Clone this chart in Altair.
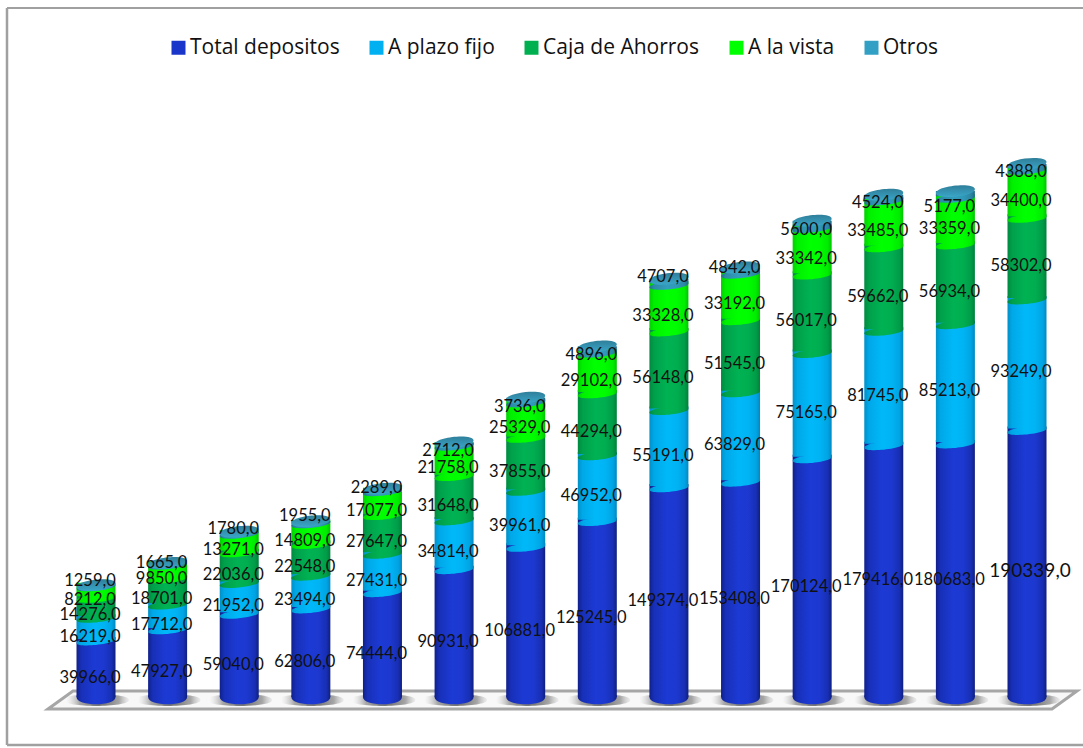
import altair as alt
import pandas as pd

years = list(range(2007, 2021))
total_depositos = [39966, 47927, 59040, 62806, 74444, 90931, 106881, 125245, 149374, 153408, 170124, 179416, 180683, 190339]
a_plazo_fijo = [16219, 17712, 21952, 23494, 27431, 34814, 39961, 46952, 55191, 63829, 75165, 81745, 85213, 93249]
caja_de_ahorros = [14276, 18701, 22036, 22548, 27647, 31648, 37855, 44294, 56148, 51545, 56017, 59662, 56934, 58302]
a_la_vista = [8212, 9850, 13271, 14809, 17077, 21758, 25329, 29102, 33328, 33192, 33342, 33485, 33359, 34400]
otros = [1259, 1665, 1780, 1955, 2289, 2712, 3736, 4896, 4707, 4842, 5600, 4524, 5177, 4388]

series_names = ["Total depositos", "A plazo fijo", "Caja de Ahorros", "A la vista", "Otros"]
series_values = [total_depositos, a_plazo_fijo, caja_de_ahorros, a_la_vista, otros]
swatch_colors = ["#1a35c9", "#00b0f0", "#00b050", "#00ff00", "#31a0c4"]

# Cylinder walls: dark edges, lighter centre
wall_stops = [
    ["#10208a", "#1830b8", "#1c3ad4", "#1c38cf", "#182fb4", "#0f1f80"],
    ["#0090c8", "#00a8e8", "#00b8f8", "#00b4f4", "#00a4e4", "#0088c0"],
    ["#008a40", "#00a04a", "#00b253", "#00ae50", "#009c48", "#00803c"],
    ["#00d000", "#00f000", "#00ff00", "#00fc00", "#00ec00", "#00c400"],
    ["#22708a", "#2c8aa8", "#339cbc", "#3098b8", "#2a86a2", "#206a84"],
]
stop_offsets = [0, 0.12, 0.45, 0.7, 0.9, 1]


def wall(colors):
    return alt.LinearGradient(
        gradient="linear", x1=0, x2=1, y1=0, y2=0,
        stops=[alt.GradientStop(offset=o, color=c) for o, c in zip(stop_offsets, colors)],
    )


# Vertical nudges of the labels, in pixels
otros_label_dy = [-5, -1, -4, -7, -2, 7, 7, 5, -5, -3, 5, 5, 12, 5]
series_label_dy = [9, 7, 7, 7]

rows = []
for n, (name, values) in enumerate(zip(series_names, series_values)):
    for i, (year, v) in enumerate(zip(years, values)):
        below = sum(s[i] for s in series_values[:n])
        rows.append({
            "anio": year, "serie": name, "valor": v,
            "inicio": below, "fin": below + v, "medio": below + v / 2,
            "etiqueta": f"{v},0",
            "dy": otros_label_dy[i] if name == "Otros" else series_label_dy[n],
        })
df = pd.DataFrame(rows)

x_scale = alt.Scale(domain=[2005.6595, 2020.7819], nice=False, zero=False, padding=0)
y_scale = alt.Scale(domain=[-36429, 497857], nice=False, zero=False, padding=0)
X = alt.X("anio:Q", scale=x_scale, axis=None)

BAR_W = 39
cap_size = BAR_W ** 2


def ellipse(k, tilt):
    return (
        f"M-1,{tilt} C-1,{tilt + k} 1,{-tilt + k} 1,{-tilt} "
        f"C1,{-tilt - k} -1,{tilt - k} -1,{tilt} Z"
    )


# Floor slab under the columns
floor_path = "M-5.14,0.09 L-4.89,-0.09 L5.15,-0.09 L4.90,0.09 Z"
floor = alt.Chart(pd.DataFrame({"a": [0]})).mark_point(
    shape=floor_path, size=40000, filled=True, fill="#f8f8f8",
    stroke="#a6a6a6", strokeWidth=3, opacity=1,
).encode(x=alt.value(562), y=alt.value(700))

shadow_fill = alt.RadialGradient(
    gradient="radial", x1=0.55, y1=0.5, x2=0.55, y2=0.5, r1=0, r2=0.5,
    stops=[
        alt.GradientStop(offset=0, color="rgba(90,90,90,0.95)"),
        alt.GradientStop(offset=0.6, color="rgba(130,130,130,0.7)"),
        alt.GradientStop(offset=1, color="rgba(200,200,200,0)"),
    ],
)
shadows = alt.Chart(pd.DataFrame({"anio": years})).mark_point(
    shape=ellipse(0.24, 0), size=66 ** 2, filled=True, fill=shadow_fill, opacity=1,
).encode(x=X, y=alt.value(700))

# Chart frame, open on the right-hand side
frame_color = "#a0a0a0"
frame = [
    alt.Chart(pd.DataFrame({"a": [0]})).mark_rule(color=frame_color, strokeWidth=2.5).encode(
        x=alt.value(7), y=alt.value(8), y2=alt.value(745)),
    alt.Chart(pd.DataFrame({"a": [0]})).mark_rule(color=frame_color, strokeWidth=2).encode(
        x=alt.value(7), x2=alt.value(1083), y=alt.value(8)),
    alt.Chart(pd.DataFrame({"a": [0]})).mark_rule(color=frame_color, strokeWidth=2.5).encode(
        x=alt.value(7), x2=alt.value(1083), y=alt.value(745)),
]

layers = [floor, shadows] + frame

# Segments from the bottom up, each with its rounded lower rim
for n, name in enumerate(series_names):
    part = df[df["serie"] == name]
    fill = wall(wall_stops[n])
    is_base = n == 0
    is_top = n == len(series_names) - 1
    cap = alt.Chart(part).mark_point(
        shape=ellipse(0.5, 0) if is_base else ellipse(0.27, 0.1),
        size=cap_size, filled=True, fill=fill, opacity=1,
    ).encode(x=X, y=alt.Y("inicio:Q", scale=y_scale, axis=None))
    body = alt.Chart(part).mark_bar(
        size=BAR_W, fill=fill,
        y2Offset=0 if is_base else -2,
        yOffset=0 if is_top else -4,
    ).encode(
        x=X,
        y=alt.Y("fin:Q", scale=y_scale, axis=None, stack=None),
        y2="inicio:Q",
    )
    layers += [cap, body]

# Open top of each column
top_fill = alt.LinearGradient(
    gradient="linear", x1=0, x2=0, y1=0, y2=1,
    stops=[alt.GradientStop(offset=0, color="#2f7f9a"), alt.GradientStop(offset=1, color="#3aa6c8")],
)
tops = alt.Chart(df[df["serie"] == "Otros"]).mark_point(
    shape=ellipse(0.38, 0.1), size=cap_size, filled=True, fill=top_fill, opacity=1,
).encode(x=X, y=alt.Y("fin:Q", scale=y_scale, axis=None))
layers.append(tops)

# Value labels, grouped by nudge; the largest one is set in a bigger size
big = df["valor"] == 190339
for dy in sorted(df.loc[~big, "dy"].unique()):
    layers.append(
        alt.Chart(df[(~big) & (df["dy"] == dy)]).mark_text(
            font="Lato", fontSize=16.5, color="#111111", dx=-6, dy=int(dy),
            baseline="middle", align="center",
        ).encode(
            x=X,
            y=alt.Y("medio:Q", scale=y_scale, axis=None),
            text="etiqueta:N",
        )
    )
layers.append(
    alt.Chart(df[big]).mark_text(
        font="Lato", fontSize=19, color="#111111", dx=3, dy=7, baseline="middle", align="center",
    ).encode(
        x=X,
        y=alt.Y("medio:Q", scale=y_scale, axis=None),
        text="etiqueta:N",
    )
)

# Year axis and the legend, carried by an invisible layer
legend_layer = alt.Chart(df).mark_point(filled=True, opacity=0, shape="square").encode(
    x=alt.X(
        "anio:Q", scale=x_scale, title=None,
        axis=alt.Axis(
            values=years, format="d", offset=-25, domain=False, ticks=False, grid=False,
            labelFont="Lato", labelFontSize=16, labelColor="#111111", labelOffset=-12,
            labelPadding=2, labelFlush=False, labelOverlap=False,
        ),
    ),
    y=alt.Y("fin:Q", scale=y_scale, axis=None),
    color=alt.Color(
        "serie:N",
        scale=alt.Scale(domain=series_names, range=swatch_colors),
        legend=alt.Legend(
            title=None, orient="none", legendX=168, legendY=37, direction="horizontal",
            columns=5, gridAlign="each", columnPadding=26, symbolType="square",
            symbolSize=196, symbolOpacity=1, symbolStrokeWidth=0, labelFont="Open Sans",
            labelFontSize=21, labelColor="#111111", labelOffset=1, padding=0,
        ),
    ),
)
layers.append(legend_layer)

chart = alt.layer(*layers).properties(
    width=1083, height=748, padding=0,
    autosize=alt.AutoSizeParams(type="none"),
    background="white",
).configure_view(stroke=None)

chart.save("out.html", embed_options={"renderer": "svg", "actions": False})
